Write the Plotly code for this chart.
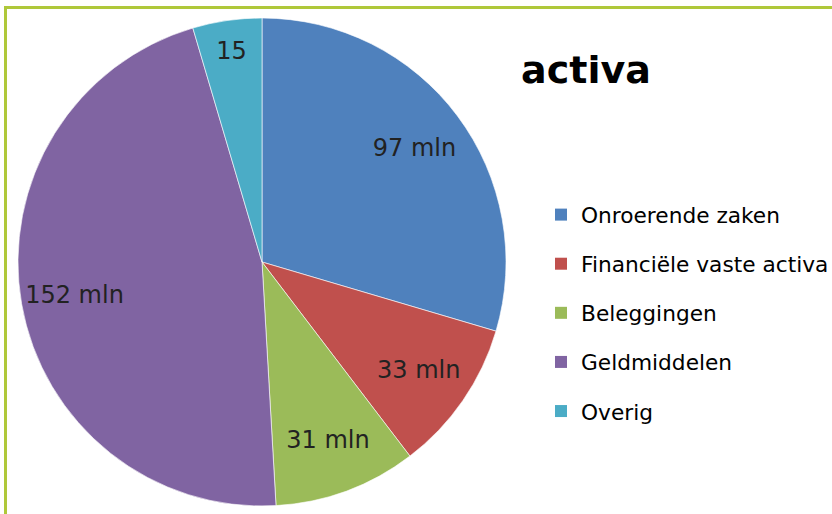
from __future__ import annotations

import plotly.graph_objects as go


CATEGORIES = [
    "Onroerende zaken",
    "Financiële vaste activa",
    "Beleggingen",
    "Geldmiddelen",
    "Overig",
]
VALUES_MLN = [97, 33, 31, 152, 15]
SLICE_LABELS = ["97 mln", "33 mln", "31 mln", "152 mln", "15"]

SLICE_COLORS = ["#4F81BD", "#C0504D", "#9BBB59", "#8064A2", "#4BACC6"]
BORDER_COLOR = "#AFC83A"
FONT = "DejaVu Sans, Verdana, sans-serif"

WIDTH = 832
HEIGHT = 514


def px_x(value: float) -> float:
    return value / WIDTH


def px_y(value: float) -> float:
    return 1 - value / HEIGHT


PIE_DOMAIN = {"x": [px_x(18), px_x(506)], "y": [px_y(506), px_y(18)]}


def build_figure() -> go.Figure:
    figure = go.Figure()

    figure.add_trace(
        go.Pie(
            labels=CATEGORIES,
            values=VALUES_MLN,
            textinfo="none",
            marker={"colors": SLICE_COLORS, "line": {"color": "rgba(255,255,255,0.6)", "width": 1}},
            sort=False,
            direction="clockwise",
            rotation=0,
            domain=PIE_DOMAIN,
            showlegend=False,
            hoverinfo="label+value",
        )
    )

    # transparent ring on top, only so the labels sit further out like in Excel
    figure.add_trace(
        go.Pie(
            labels=CATEGORIES,
            values=VALUES_MLN,
            text=SLICE_LABELS,
            textinfo="text",
            textposition="inside",
            insidetextorientation="horizontal",
            textfont={"family": FONT, "size": 24, "color": "#222222"},
            marker={"colors": ["rgba(0,0,0,0)"] * len(CATEGORIES), "line": {"width": 0}},
            hole=0.56,
            sort=False,
            direction="clockwise",
            rotation=0,
            domain=PIE_DOMAIN,
            showlegend=False,
            hoverinfo="skip",
        )
    )

    # legend entries as separate groups so the spacing can match the original
    for index, (label, color) in enumerate(zip(CATEGORIES, SLICE_COLORS)):
        figure.add_trace(
            go.Scatter(
                x=[None],
                y=[None],
                mode="markers",
                name=label,
                legendgroup=f"g{index}",
                marker={"symbol": "square", "size": 12, "color": color},
                hoverinfo="skip",
            )
        )

    figure.add_shape(
        type="rect",
        xref="paper",
        yref="paper",
        x0=px_x(5.5),
        y0=px_y(530),
        x1=px_x(850),
        y1=px_y(7.5),
        line={"color": BORDER_COLOR, "width": 3},
        fillcolor="rgba(0,0,0,0)",
        layer="above",
    )

    figure.update_layout(
        width=WIDTH,
        height=HEIGHT,
        autosize=False,
        margin={"l": 0, "r": 0, "t": 0, "b": 0, "autoexpand": False},
        paper_bgcolor="white",
        plot_bgcolor="white",
        font={"family": FONT, "color": "#000000"},
        title={
            "text": "<b>activa</b>",
            "font": {"family": FONT, "size": 38, "color": "#000000"},
            "x": px_x(586),
            "y": px_y(70),
            "xanchor": "center",
            "yanchor": "middle",
        },
        xaxis={"visible": False},
        yaxis={"visible": False},
        legend={
            "x": px_x(541),
            "y": px_y(194),
            "xanchor": "left",
            "yanchor": "top",
            "font": {"family": FONT, "size": 21.7, "color": "#000000"},
            "tracegroupgap": 17.9,
            "bgcolor": "rgba(0,0,0,0)",
        },
    )
    return figure


fig = build_figure()
# the page has the browser's default body margin; drop it so the chart sits at 0,0
fig.write_html(
    "out.html",
    config={"displayModeBar": False},
    post_script="document.body.style.margin = '0';",
)
